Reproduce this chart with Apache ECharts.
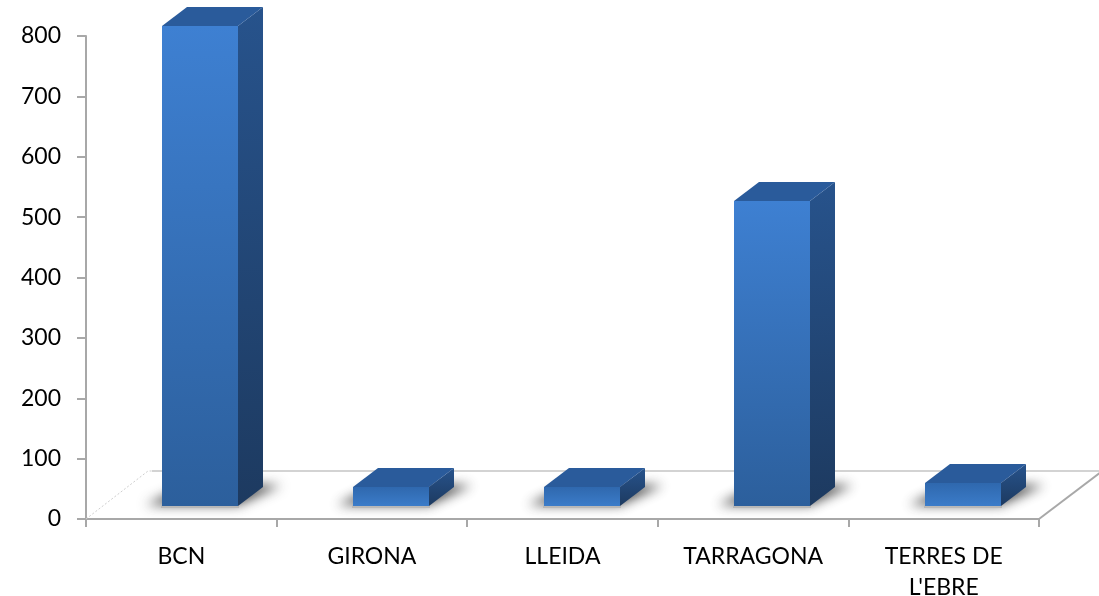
<!DOCTYPE html>
<html>
<head>
<meta charset="utf-8">
<style>html,body{margin:0;padding:0;background:#fff}#c{width:1099px;height:596px}</style>
<script src="https://cdn.jsdelivr.net/npm/echarts@6/dist/echarts.min.js"></script>
</head>
<body>
<div id="c"></div>
<script>
const categories = ['BCN', 'GIRONA', 'LLEIDA', 'TARRAGONA', "TERRES DE\nL'EBRE"];
const values = [795, 31, 31, 506, 38];
const yTicks = [0, 100, 200, 300, 400, 500, 600, 700, 800];

const depthX = 25, depthY = 19, liftY = 13, shiftX = 19, barRatio = 0.4;
const floorDX = 62, floorDY = 48;
const axisColor = '#a8a8a8';
const font = 'Lato';
const off = 3000;

const chart = echarts.init(document.getElementById('c'), null, {renderer: 'canvas'});

function renderFloor(params, api) {
  const cs = params.coordSys;
  const l = cs.x, r = cs.x + cs.width, b = cs.y + cs.height;
  return {type: 'group', silent: true, children: [
    {type: 'polyline', shape: {points: [[l, b], [l + floorDX, b - floorDY], [l + floorDX + 4, b - floorDY]]},
      style: {fill: null, stroke: '#cfcfcf', lineWidth: 1, lineDash: [2, 2]}},
    {type: 'line', shape: {x1: l + floorDX + 4, y1: b - floorDY, x2: r + floorDX, y2: b - floorDY},
      style: {stroke: '#c4c4c4', lineWidth: 1.5}},
    {type: 'line', shape: {x1: r, y1: b, x2: r + floorDX, y2: b - floorDY + 1},
      style: {stroke: axisColor, lineWidth: 2}}
  ]};
}

function renderBar(params, api) {
  const cat = api.value(0), val = api.value(1);
  const base = api.coord([cat, 0]), top = api.coord([cat, val]);
  const w = Math.round(api.size([1, 0])[0] * barRatio);
  const x0 = Math.round(base[0] + shiftX - w / 2), x1 = x0 + w;
  const yb = Math.round(base[1] - liftY), yt = Math.round(top[1] - liftY);
  const dx = depthX, dy = depthY;
  const grad = (a, c) => new echarts.graphic.LinearGradient(0, 0, 0, 1, [{offset: 0, color: a}, {offset: 1, color: c}]);
  return {type: 'group', silent: true, children: [
    {type: 'polygon', shape: {points: [[x0 - 16 - off, yb - 1], [x1 - off, yb - 1], [x1 + dx + 18 - off, yb - dy - 2], [x0 + dx - off, yb - dy - 2]]},
      style: {fill: '#000', shadowBlur: 12, shadowOffsetX: off, shadowColor: 'rgba(60,60,60,0.9)'}},
    {type: 'rect', shape: {x: x0 - 1, y: yb - 1, width: w + 2, height: 3},
      style: {fill: '#b8b8b8'}},
    {type: 'polygon', shape: {points: [[x1, yt], [x1 + dx, yt - dy], [x1 + dx, yb - dy], [x1, yb]]},
      style: {fill: grad('#27538c', '#1d3a60')}},
    {type: 'polygon', shape: {points: [[x0, yt], [x0 + dx, yt - dy], [x1 + dx, yt - dy], [x1, yt]]},
      style: {fill: '#2a5b9b'}},
    {type: 'rect', shape: {x: x0, y: yt, width: w, height: yb - yt},
      style: {fill: val > 100 ? grad('#3e80d2', '#2c5f9c') : grad('#2f68ae', '#3b7cc9')}}
  ]};
}

chart.setOption({
  animation: false,
  backgroundColor: '#fff',
  grid: {left: 86, right: 60, top: 36, bottom: 77, containLabel: false, outerBoundsMode: 'none'},
  xAxis: {
    type: 'category', data: categories, boundaryGap: true,
    axisLine: {show: true, lineStyle: {color: axisColor, width: 2}},
    axisTick: {show: true, length: 8, alignWithLabel: false, lineStyle: {color: axisColor, width: 2}},
    axisLabel: {color: '#000', fontFamily: font, fontSize: 23, margin: 22, lineHeight: 31, interval: 0}
  },
  yAxis: {
    type: 'value', min: 0, max: 800, interval: 100,
    axisLine: {show: true, lineStyle: {color: axisColor, width: 2}},
    axisTick: {show: true, length: 9, lineStyle: {color: axisColor, width: 2}},
    splitLine: {show: false},
    axisLabel: {color: '#000', fontFamily: font, fontSize: 23, margin: 25,
      customValues: yTicks}
  },
  series: [
    {type: 'custom', name: 'floor', renderItem: renderFloor, data: [[0, 0]], clip: false, z: 1,
      encode: {x: 0, y: 1}},
    {type: 'custom', name: 'bars', renderItem: renderBar, clip: false, z: 2,
      data: values.map((v, i) => [i, v]), encode: {x: 0, y: 1}}
  ]
});
</script>
</body>
</html>
